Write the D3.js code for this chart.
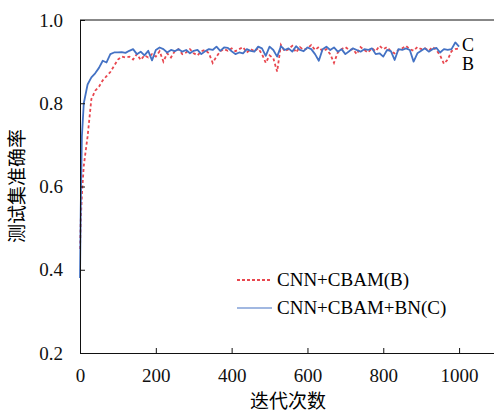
<!DOCTYPE html>
<html>
<head>
<meta charset="utf-8">
<script src="https://cdn.jsdelivr.net/npm/d3@7"></script>
<style>
  body { margin: 0; background: #fff; }
  svg { display: block; }
  .tick text { font-family: "Liberation Serif", "DejaVu Serif", serif; font-size: 19px; fill: #111; }
  .axis path, .axis line { stroke: #111; }
</style>
</head>
<body>
<div class="chart-wrapper"></div>
<script>
// iteration numbers (x)
const iters = [0, 2, 5, 10, 20, 30, 40, 50, 60, 70, 80, 90, 100,
  110, 120, 130, 140, 150, 160, 170, 180, 190, 200,
  210, 220, 230, 240, 250, 260, 270, 280, 290, 300,
  310, 320, 330, 340, 350, 360, 370, 380, 390, 400,
  410, 420, 430, 440, 450, 460, 470, 480, 490, 500,
  510, 520, 530, 540, 550, 560, 570, 580, 590, 600,
  610, 620, 630, 640, 650, 660, 670, 680, 690, 700,
  710, 720, 730, 740, 750, 760, 770, 780, 790, 800,
  810, 820, 830, 840, 850, 860, 870, 880, 890, 900,
  910, 920, 930, 940, 950, 960, 970, 980, 990, 1000];

// CNN+CBAM(B) test accuracy
const accB = [0.45, 0.52, 0.58, 0.65, 0.72, 0.81, 0.83, 0.84, 0.855, 0.865, 0.875, 0.89, 0.905,
  0.912, 0.910, 0.912, 0.905, 0.918, 0.904, 0.915, 0.910, 0.918, 0.912,
  0.925, 0.900, 0.920, 0.910, 0.925, 0.930, 0.918, 0.922, 0.930, 0.920,
  0.915, 0.925, 0.928, 0.920, 0.897, 0.912, 0.925, 0.930, 0.926, 0.932,
  0.925, 0.930, 0.935, 0.922, 0.930, 0.925, 0.932, 0.918, 0.897, 0.915,
  0.908, 0.876, 0.940, 0.925, 0.930, 0.938, 0.922, 0.935, 0.928, 0.932,
  0.940, 0.928, 0.935, 0.925, 0.930, 0.918, 0.897, 0.922, 0.930, 0.935,
  0.928, 0.930, 0.918, 0.935, 0.928, 0.922, 0.932, 0.925, 0.938, 0.930,
  0.935, 0.925, 0.920, 0.928, 0.932, 0.938, 0.930, 0.926, 0.935, 0.930,
  0.932, 0.926, 0.935, 0.928, 0.915, 0.895, 0.905, 0.925, 0.930, 0.932];

// CNN+CBAM+BN(C) test accuracy
const accC = [0.38, 0.55, 0.72, 0.80, 0.845, 0.862, 0.872, 0.885, 0.902, 0.898, 0.918, 0.922, 0.922,
  0.923, 0.921, 0.926, 0.930, 0.918, 0.924, 0.915, 0.926, 0.903, 0.928,
  0.934, 0.930, 0.922, 0.928, 0.925, 0.930, 0.924, 0.928, 0.920, 0.926,
  0.928, 0.918, 0.925, 0.930, 0.928, 0.936, 0.926, 0.934, 0.933, 0.925,
  0.918, 0.922, 0.920, 0.930, 0.926, 0.924, 0.936, 0.932, 0.914, 0.936,
  0.928, 0.912, 0.937, 0.928, 0.932, 0.924, 0.937, 0.928, 0.925, 0.934,
  0.930, 0.918, 0.902, 0.930, 0.936, 0.928, 0.934, 0.924, 0.930, 0.918,
  0.925, 0.932, 0.928, 0.924, 0.930, 0.928, 0.932, 0.918, 0.920, 0.912,
  0.928, 0.925, 0.904, 0.930, 0.928, 0.932, 0.928, 0.900, 0.920, 0.926,
  0.932, 0.924, 0.930, 0.933, 0.922, 0.930, 0.928, 0.930, 0.946, 0.936];

const xTicks = [0, 200, 400, 600, 800, 1000];
const yTicks = [0.2, 0.4, 0.6, 0.8, 1.0];
const seriesNames = ["CNN+CBAM(B)", "CNN+CBAM+BN(C)"];
const endLabels = ["C", "B"];

const svgWidth = 494, svgHeight = 414;
const margin = { top: 20, left: 80, bottom: 61 };

const svg = d3.select(".chart-wrapper")
  .append("svg")
  .attr("width", svgWidth)
  .attr("height", svgHeight);

const xScale = d3.scaleLinear()
  .domain([0, 1100])
  .range([margin.left, margin.left + 417]);

const yScale = d3.scaleLinear()
  .domain([0.2, 1.0])
  .range([svgHeight - margin.bottom, margin.top]);

// lines
const line = d3.line()
  .x((d, i) => xScale(iters[i]))
  .y(d => yScale(d));

svg.append("path")
  .datum(accB)
  .attr("fill", "none")
  .attr("stroke", "#E8474F")
  .attr("stroke-width", 1.8)
  .attr("stroke-dasharray", "3,2.5")
  .attr("d", line);

svg.append("path")
  .datum(accC)
  .attr("fill", "none")
  .attr("stroke", "#4472C4")
  .attr("stroke-width", 1.8)
  .attr("stroke-linejoin", "round")
  .attr("d", line);

// axes with inward ticks
svg.append("g")
  .attr("class", "axis")
  .attr("transform", `translate(0,${yScale(0.2)})`)
  .call(d3.axisBottom(xScale).tickValues(xTicks).tickFormat(d3.format("d"))
    .tickSizeInner(-5).tickSizeOuter(0).tickPadding(16))
  .call(g => g.selectAll(".tick text").attr("dy", "0.71em"));

svg.append("g")
  .attr("class", "axis")
  .attr("transform", `translate(${xScale(0)},0)`)
  .call(d3.axisLeft(yScale).tickValues(yTicks).tickFormat(d3.format(".1f"))
    .tickSizeInner(-5).tickSizeOuter(0).tickPadding(17));

// top frame line
svg.append("line")
  .attr("x1", xScale(0))
  .attr("x2", svgWidth)
  .attr("y1", yScale(1.0))
  .attr("y2", yScale(1.0))
  .attr("stroke", "#111");

// end labels
svg.selectAll(".end-label")
  .data(endLabels)
  .enter()
  .append("text")
  .attr("x", 462)
  .attr("y", (d, i) => 51 + i * 19)
  .style("font-family", "Liberation Serif, serif")
  .style("font-size", "18px")
  .text(d => d);

// legend
const legend = svg.append("g");
const legendStyles = [
  { stroke: "#E8474F", dash: "3,2", width: 2.2 },
  { stroke: "#4472C4", dash: null, width: 1.2 }
];
seriesNames.forEach((name, i) => {
  const y = 280 + i * 28;
  legend.append("line")
    .attr("x1", 237).attr("x2", 272)
    .attr("y1", y).attr("y2", y)
    .attr("stroke", legendStyles[i].stroke)
    .attr("stroke-width", legendStyles[i].width)
    .attr("stroke-dasharray", legendStyles[i].dash);
  legend.append("text")
    .attr("x", 277)
    .attr("y", y + 6)
    .style("font-family", "Liberation Serif, serif")
    .style("font-size", "19px")
    .text(name);
});

// axis titles
svg.append("text")
  .attr("x", 288)
  .attr("y", 408)
  .attr("text-anchor", "middle")
  .style("font-family", "Noto Sans CJK SC, sans-serif")
  .style("font-size", "19px")
  .text("迭代次数");

svg.append("text")
  .attr("transform", "translate(24,186) rotate(-90)")
  .attr("text-anchor", "middle")
  .style("font-family", "Noto Sans CJK SC, sans-serif")
  .style("font-size", "19px")
  .text("测试集准确率");
</script>
</body>
</html>
